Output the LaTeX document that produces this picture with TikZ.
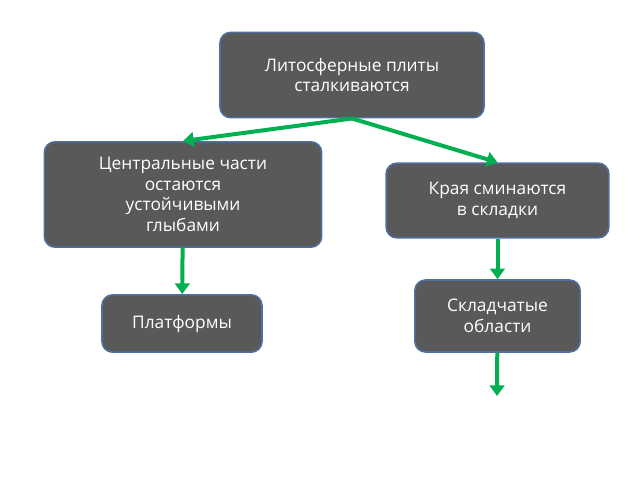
\documentclass[tikz,border=0pt]{standalone}
\usepackage{fontspec}
\setmainfont{Open Sans}
\usepackage{tikz}
\usetikzlibrary{arrows.meta,positioning}
\definecolor{boxgray}{HTML}{595959}
\definecolor{boxline}{HTML}{4F6FA0}
\definecolor{arrowgreen}{HTML}{00B050}
\tikzset{
  block/.style={draw=boxline,line width=1.2pt,fill=boxgray,rounded corners=8pt,
    text=white,align=center,font=\fontsize{13}{15.5}\selectfont,inner sep=0pt},
  flow/.style={-{Triangle[length=8pt,width=11pt]},draw=arrowgreen,line width=3pt}
}
\begin{document}
\begin{tikzpicture}[x=0.75pt,y=-0.75pt]
    \useasboundingbox (0,0) rectangle (640,480);
    \node[block,minimum width=198pt,minimum height=64pt] (plates) at (352,75) {Литосферные плиты\\сталкиваются};
    %left branch
    \node[block,minimum width=208pt,minimum height=79pt] (centre) at (183,194.5) {Центральные части\\остаются\\устойчивыми\\глыбами};
    \node[block,minimum width=120pt,minimum height=43pt] (platforms) at (182,323.5) {Платформы};
    %right branch
    \node[block,minimum width=167pt,minimum height=56pt] (edges) at (497.5,200.5) {Края сминаются\\в складки};
    \node[block,minimum width=124pt,minimum height=54pt] (folds) at (497.5,316) {Складчатые\\области};
    \coordinate (out) at (497,396);
    \path
     (plates.south) edge[flow] (centre.north)
     (plates.south) edge[flow] (edges.north)
     (centre) edge[flow] (platforms)
     (edges) edge[flow] (folds)
     (folds) edge[flow] (out);
\end{tikzpicture}
\end{document}
